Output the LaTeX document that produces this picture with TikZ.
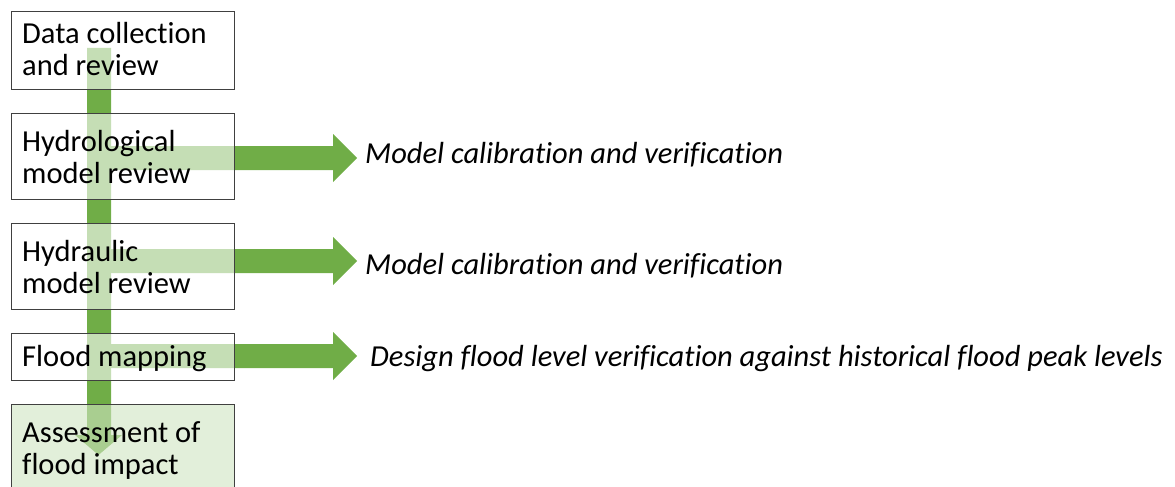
\documentclass[tikz,border=0pt]{standalone}
\usepackage{fontspec}
\setmainfont{Carlito}[Ligatures=NoCommon]
\definecolor{fgreen}{HTML}{70AD47}
\definecolor{pgreen}{RGB}{207,228,193}
\begin{document}
\begin{tikzpicture}[x=1pt,y=-1pt,
  box/.style={draw=black!75, line width=1.2pt, fill=white, fill opacity=0.6, draw opacity=1, anchor=north west, inner sep=0pt, minimum width=223pt},
  txt/.style={anchor=base west, inner sep=0pt, font=\fontsize{30.5}{32}\selectfont, align=left},
  itxt/.style={anchor=base west, inner sep=0pt, font=\fontsize{30.5}{32}\selectfont\itshape},
  arr/.style={fill=fgreen, draw=none}]
\useasboundingbox (0,0) rectangle (1175,487);
\clip (0,0) rectangle (1175,487);
% arrows (behind boxes)
\fill[arr] (87,48) -- (111,48) -- (111,435) -- (122,435) -- (98.5,455) -- (75,435) -- (87,435) -- cycle;
\fill[arr] (110,146) -- (333,146) -- (333,134) -- (357,158) -- (333,182) -- (333,170) -- (110,170) -- cycle;
\fill[arr] (110,249) -- (333,249) -- (333,237) -- (357,261) -- (333,285) -- (333,273) -- (110,273) -- cycle;
\fill[arr] (110,344) -- (333,344) -- (333,332) -- (357,356) -- (333,380) -- (333,368) -- (110,368) -- cycle;
% boxes
\node[box, minimum height=78pt] (b1) at (11,11) {};
\node[box, minimum height=86pt] (b2) at (11,113) {};
\node[box, minimum height=86pt] (b3) at (11,223) {};
\node[box, minimum height=47pt] (b4) at (11,333) {};
\node[box, minimum height=95pt, fill=pgreen] (b5) at (11,404) {};
% texts (anchored at baseline of last line)
\node[txt] (t1) at (22,75) {Data collection\\and review};
\node[txt] (t2) at (22,183) {Hydrological\\model review};
\node[txt] (t3) at (22,293) {Hydraulic\\model review};
\node[txt] (t4) at (22,366) {Flood mapping};
\node[txt] (t5) at (22,474) {Assessment of\\flood impact};
\node[itxt] (l1) at (365,163) {Model calibration and verification};
\node[itxt] (l2) at (365,274) {Model calibration and verification};
\node[itxt] (l3) at (370,366) {Design flood level verification against historical flood peak levels};
\end{tikzpicture}
\end{document}
